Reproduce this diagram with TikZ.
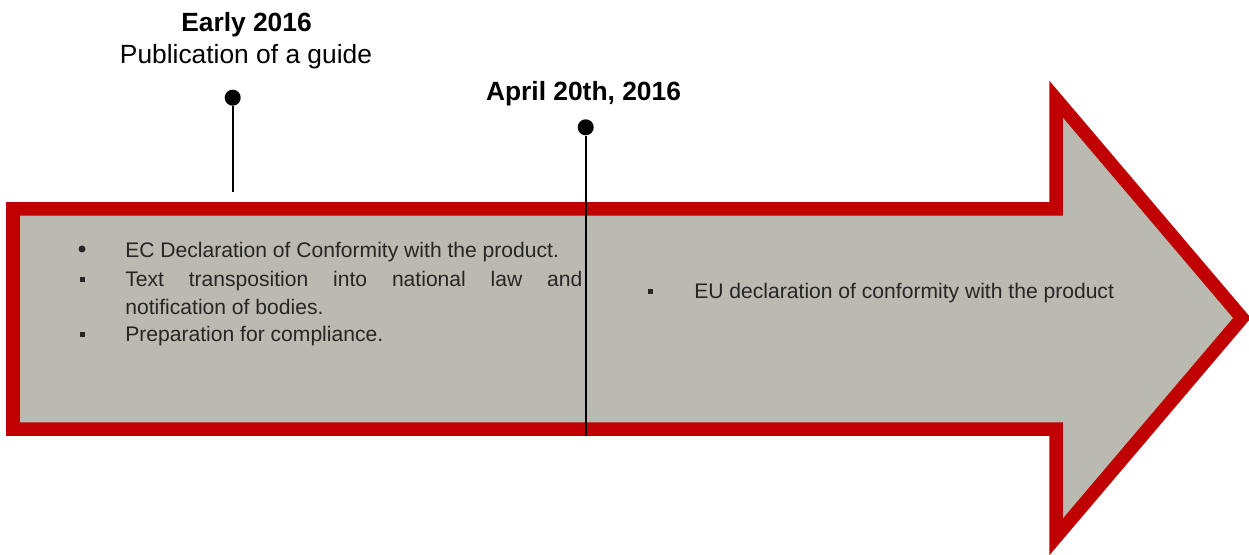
\documentclass[tikz,border=0pt]{standalone}
\usepackage{fontspec}
\setmainfont{Liberation Sans}
\definecolor{arrowred}{HTML}{C00000}
\definecolor{arrowgray}{HTML}{BBBAB0}
\definecolor{itemgray}{HTML}{262626}
\tikzset{
  datedot/.style={circle,fill=black,inner sep=0,minimum size=.32cm},
  datestem/.style={line width=1pt},
  datetitle/.style={anchor=base,inner sep=0,font=\fontsize{15}{18}\selectfont},
  rndbullet/.style={circle,fill=itemgray,inner sep=0,minimum size=.14cm},
  sqbullet/.style={rectangle,fill=itemgray,inner sep=0,minimum size=.1cm},
  itemtext/.style={anchor=base west,inner sep=0,text=itemgray,font=\fontsize{12}{15.7}\selectfont}
}
\begin{document}
\begin{tikzpicture}
\useasboundingbox(0,0)rectangle(24.98,11.08);

%arrow
\draw[line width=.27cm,draw=arrowred,fill=arrowgray](.26,6.9)--(21.12,6.9)--(21.12,9.1)--(24.84,4.72)
  --(21.12,.34)--(21.12,2.5)--(.26,2.5)--cycle;

%dates
\node[datetitle,font=\fontsize{15}{18}\selectfont\bfseries](early)at(4.93,10.44){Early 2016};
\node[datetitle](guide)at(4.92,9.8){Publication of a guide};
\node[datetitle,font=\fontsize{15}{18}\selectfont\bfseries](april)at(11.67,9.07){April 20th, 2016};

\node[datedot](guidedot)at(4.654,9.126){};
\coordinate(guidestem)at(4.654,7.24);
\draw[datestem](guidedot)--(guidestem);

\node[datedot](aprildot)at(11.714,8.534){};
\coordinate(aprilstem)at(11.714,2.36);
\draw[datestem](aprildot)--(aprilstem);

%items before
\node[rndbullet](b1)at(1.64,6.1){};
\node[itemtext](item1)at(2.5,5.94){EC Declaration of Conformity with the product.};
\node[sqbullet](b2)at(1.64,5.5){};
\node[itemtext,text width=9.14cm,align=justify](item2)at(2.5,5.35){Text transposition into national law and\linebreak notification of bodies.};
\node[sqbullet](b3)at(1.64,4.4){};
\node[itemtext](item3)at(2.5,4.26){Preparation for compliance.};

%items after
\node[sqbullet](b4)at(13.01,5.25){};
\node[itemtext](item4)at(13.88,5.11){EU declaration of conformity with the product};

\end{tikzpicture}
\end{document}
